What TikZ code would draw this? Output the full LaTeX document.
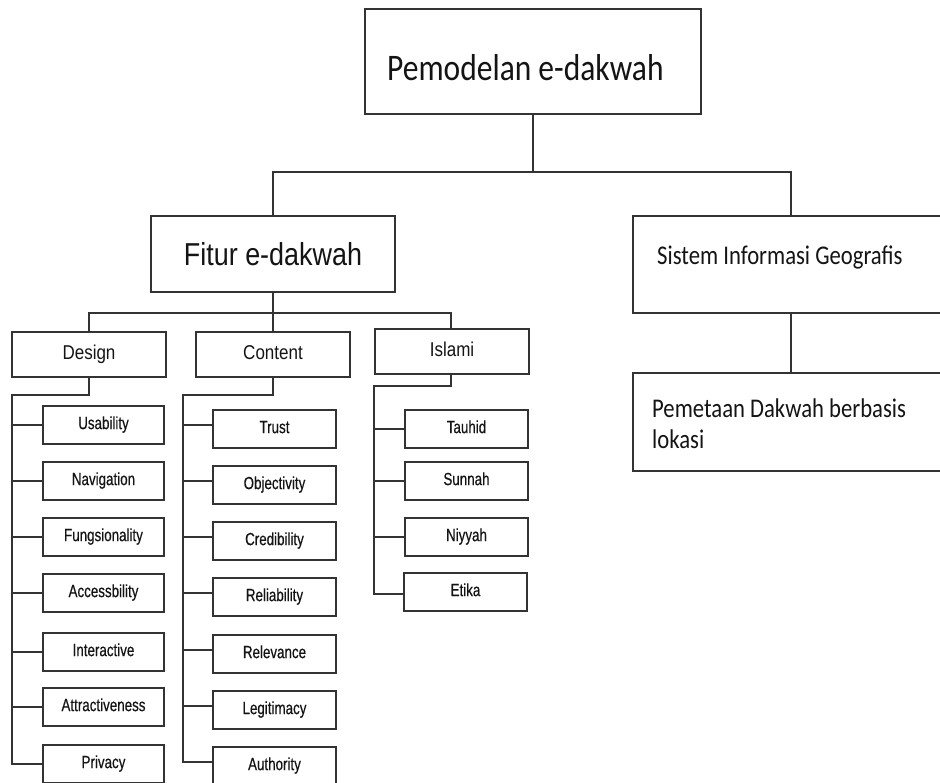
\documentclass[tikz,border=0pt]{standalone}
\usepackage{fontspec}
\newfontfamily\calfont[FakeStretch=0.84]{Carlito}
\newfontfamily\midfont[FakeStretch=0.85]{Liberation Sans}
\newfontfamily\leaffont[FakeStretch=0.76,FakeBold=0.4]{Liberation Sans}
\definecolor{ink}{HTML}{333333}
\definecolor{txt}{HTML}{141414}

\begin{document}
\begin{tikzpicture}[x=1pt,y=-1pt,
  box/.style={draw=ink, line width=2pt, rectangle, inner sep=0pt, text=txt},
  wire/.style={draw=ink, line width=2pt},
  leaf/.style={box, minimum height=38pt, font=\leaffont\fontsize{17.6}{20}\selectfont,
    text height=12.6pt, text depth=4.4pt},
  cat/.style={box, minimum width=154pt, minimum height=45pt,
    font=\midfont\fontsize{20}{24}\selectfont, text height=14pt, text depth=4.5pt},
  dleaf/.style={leaf, minimum width=121pt},
  cleaf/.style={leaf, minimum width=123pt},
  caltext/.style={anchor=base west, inner sep=0pt, text=txt},
]
\useasboundingbox (0,0) rectangle (940,782);
\fill[white] (0,0) rectangle (940,782);
\clip (0,0) rectangle (940,782);

% top level
\node[box, minimum width=336pt, minimum height=105pt] (top) at (533,61.5) {};
\node[caltext, font=\calfont\fontsize{37.5}{45}\selectfont] (toptext) at (387,80) {Pemodelan e-dakwah};

% second level
\node[box, minimum width=244pt, minimum height=76pt,
  font=\midfont\fontsize{31.7}{38}\selectfont, text height=26pt, text depth=2.4pt]
  (fitur) at (273,254) {Fitur e-dakwah};
\node[box, minimum width=316pt, minimum height=97pt] (sig) at (791,264.5) {};
\node[caltext, font=\calfont\fontsize{27}{31}\selectfont] (sigtext) at (657,264) {Sistem Informasi Geografis};
\node[box, minimum width=316pt, minimum height=98pt] (peta) at (791,422) {};
\node[caltext, font=\calfont\fontsize{27}{31}\selectfont] (petatext) at (652,417.3)
  {\begin{tabular}[t]{@{}l@{}}Pemetaan Dakwah berbasis\\lokasi\end{tabular}};

% third level
\node[cat] (design) at (89,354.5) {Design};
\node[cat] (content) at (273,354.5) {Content};
\node[cat] (islami) at (452,351.5) {Islami};

% design leaves
\node[dleaf] (d1) at (103.5,425) {Usability};
\node[dleaf] (d2) at (103.5,481) {Navigation};
\node[dleaf] (d3) at (103.5,537) {Fungsionality};
\node[dleaf] (d4) at (103.5,593) {Accessbility};
\node[dleaf] (d5) at (103.5,652) {Interactive};
\node[dleaf] (d6) at (103.5,707) {Attractiveness};
\node[dleaf] (d7) at (103.5,764) {Privacy};

% content leaves
\node[cleaf] (c1) at (274.5,429) {Trust};
\node[cleaf] (c2) at (274.5,485) {Objectivity};
\node[cleaf] (c3) at (274.5,541) {Credibility};
\node[cleaf] (c4) at (274.5,597) {Reliability};
\node[cleaf] (c5) at (274.5,654) {Relevance};
\node[cleaf] (c6) at (274.5,710) {Legitimacy};
\node[cleaf] (c7) at (274.5,766) {Authority};

% islami leaves
\node[cleaf] (i1) at (466.5,429) {Tauhid};
\node[cleaf] (i2) at (466.5,481) {Sunnah};
\node[cleaf] (i3) at (466.5,537) {Niyyah};
\node[cleaf] (i4) at (465.5,592) {Etika};

% connector levels
\coordinate (bar1) at (0,172);
\coordinate (bar2) at (0,313);
\coordinate (dT) at (12,395);
\coordinate (cT) at (183,395);
\coordinate (iT) at (374,386);

% top to second level
\draw[wire] (top.south) -- (top.south |- bar1);
\draw[wire] (fitur.north) -- (fitur.north |- bar1) -- (sig.north |- bar1) -- (sig.north);
\draw[wire] (sig.south) -- (peta.north);

% second to third level
\draw[wire] (fitur.south) -- (fitur.south |- bar2);
\draw[wire] (design.north) -- (design.north |- bar2) -- ([xshift=-1pt]islami.north |- bar2) -- ([xshift=-1pt]islami.north);
\draw[wire] (content.north) -- (content.north |- bar2);

% design branch
\draw[wire] (design.south) |- (dT) |- (d7.west);
\foreach \n in {d1,d2,d3,d4,d5,d6}
  \draw[wire] (\n.west) -- (\n.west -| dT);

% content branch
\draw[wire] (content.south) |- (cT) |- ([yshift=4pt]c7.west);
\foreach \n in {c1,c2,c3,c4,c5,c6}
  \draw[wire] ([yshift=4pt]\n.west) -- ([yshift=4pt]\n.west -| cT);

% islami branch
\draw[wire] ([xshift=-1pt]islami.south) |- (iT) |- ([yshift=-2pt]i4.west);
\foreach \n in {i1,i2,i3}
  \draw[wire] (\n.west) -- (\n.west -| iT);
\end{tikzpicture}
\end{document}
